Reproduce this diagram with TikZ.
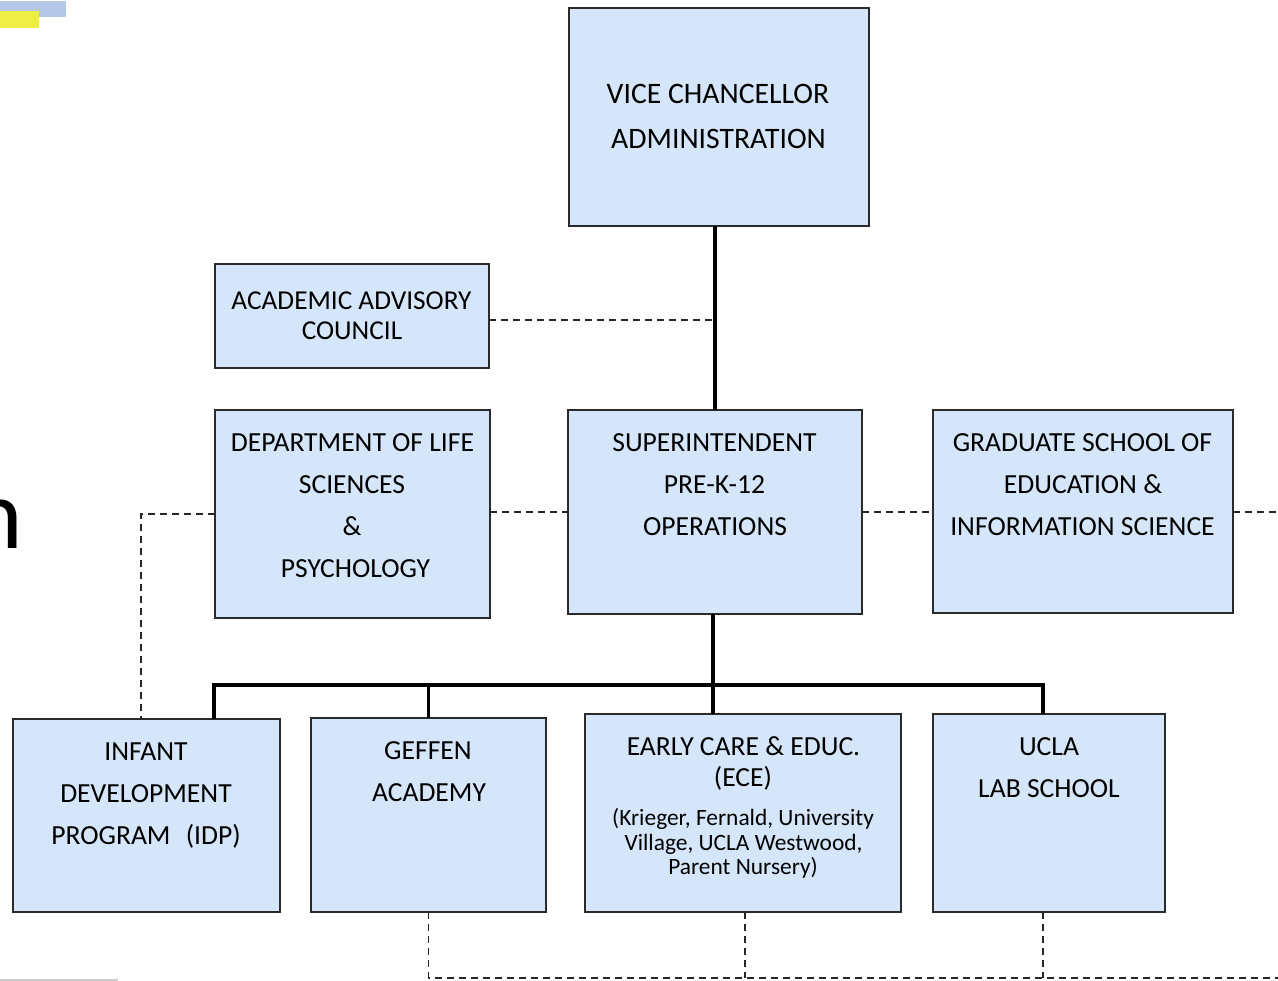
\documentclass[tikz,border=0pt]{standalone}
\usepackage{fontspec}
\setmainfont{Carlito}
\definecolor{boxfill}{HTML}{D6E6FA}
\definecolor{boxline}{HTML}{2A2A2A}
\definecolor{hlblue}{HTML}{B4C7E7}
\definecolor{hlyellow}{HTML}{EEEE44}
\tikzset{
  orgbox/.style={draw=boxline, fill=boxfill, line width=1.6pt, rectangle, inner sep=0pt, outer sep=0pt},
  lbl/.style={anchor=base, inner sep=0pt, font=\fontsize{27.6}{32}\selectfont},
  lblbig/.style={anchor=base, inner sep=0pt, font=\fontsize{29.7}{34}\selectfont},
  lblaac/.style={anchor=base, inner sep=0pt, font=\fontsize{27.3}{32}\selectfont},
  lblsmall/.style={anchor=base, inner sep=0pt, font=\fontsize{23.4}{27}\selectfont},
  solidcon/.style={line width=3.5pt, black},
  dashcon/.style={line width=1.5pt, black!85, dash pattern=on 7pt off 5pt},
}
\begin{document}
\begin{tikzpicture}[x=1pt, y=-1pt]
\useasboundingbox[fill=white] (0,0) rectangle (1278,981);

% top-left highlights
\fill[hlblue] (0,1) rectangle (66,17);
\fill[hlyellow] (0,11) rectangle (39,28);
% grey line bottom-left
\draw[black!20, line width=2pt] (0,980) -- (118,980);
% big partial letter on left edge
\node[anchor=base east, inner sep=0pt, font=\fontsize{100}{110}\selectfont] (bign) at (23,548) {n};

% boxes
\node[orgbox, minimum width=300pt, minimum height=218pt] (vc) at (719,117) {};
\node[orgbox, minimum width=274pt, minimum height=104pt] (aac) at (352,316) {};
\node[orgbox, minimum width=275pt, minimum height=208pt] (dls) at (352.5,514) {};
\node[orgbox, minimum width=294pt, minimum height=204pt] (sup) at (715,512) {};
\node[orgbox, minimum width=300pt, minimum height=203pt] (gse) at (1083,511.5) {};
\node[orgbox, minimum width=267pt, minimum height=193pt] (idp) at (146.5,815.5) {};
\node[orgbox, minimum width=235pt, minimum height=194pt] (gef) at (428.5,815) {};
\node[orgbox, minimum width=316pt, minimum height=198pt] (ece) at (743,813) {};
\node[orgbox, minimum width=232pt, minimum height=198pt] (ucla) at (1049,813) {};

% texts
\node[lblbig] (vc1) at (718,103.2) {VICE CHANCELLOR};
\node[lblbig] (vc2) at (718.5,148.2) {ADMINISTRATION};
\node[lblaac] (aac1) at (351.5,309.4) {ACADEMIC ADVISORY};
\node[lblaac] (aac2) at (352,339.4) {COUNCIL};
\node[lbl] (dls1) at (352.5,451.5) {DEPARTMENT OF LIFE};
\node[lbl] (dls2) at (352,493.5) {SCIENCES};
\node[lbl] (dls3) at (352,535.5) {\&};
\node[lbl] (dls4) at (355.5,577.5) {PSYCHOLOGY};
\node[lbl] (sup1) at (714.5,451.5) {SUPERINTENDENT};
\node[lbl] (sup2) at (714.5,493.5) {PRE-K-12};
\node[lbl] (sup3) at (715,535.5) {OPERATIONS};
\node[lbl] (gse1) at (1082.5,451.5) {GRADUATE SCHOOL OF};
\node[lbl] (gse2) at (1083,493.5) {EDUCATION \&};
\node[lbl] (gse3) at (1082.5,535.5) {INFORMATION SCIENCE};
\node[lbl] (idp1) at (146,760.5) {INFANT};
\node[lbl] (idp2) at (146,802.5) {DEVELOPMENT};
\node[lbl] (idp3) at (146,844.5) {PROGRAM\hspace{0.55em}(IDP)};
\node[lbl] (gef1) at (428,759.5) {GEFFEN};
\node[lbl] (gef2) at (429,801.5) {ACADEMY};
\node[lbl] (ece1) at (743.5,755.5) {EARLY CARE \& EDUC.};
\node[lbl] (ece2) at (743,786.5) {(ECE)};
\node[lblsmall] (ece3) at (743,825.5) {(Krieger, Fernald, University};
\node[lblsmall] (ece4) at (743.5,850.5) {Village, UCLA Westwood,};
\node[lblsmall] (ece5) at (743,874.5) {Parent Nursery)};
\node[lbl] (ucla1) at (1049,755.5) {UCLA};
\node[lbl] (ucla2) at (1049,797.5) {LAB SCHOOL};

% coordinates
\coordinate (aacj) at (715,320);
\coordinate (gser) at (1278,512);
\coordinate (idpj) at (141,514);
\coordinate (bus) at (713,685);
\coordinate (bL) at (214,685);
\coordinate (bR) at (1043,685);
\coordinate (bot) at (1278,978);

% solid connectors
\draw[solidcon] (sup.north) -- (sup.north |- vc.south);
\draw[solidcon] (sup.south -| bus) -- (bus |- ece.north);
\draw[solidcon] (bL |- idp.north) -- (bL) -- (bR) -- (bR |- ucla.north);
\draw[solidcon] (gef.north) -- (gef.north |- bL);

% dashed connectors
\draw[dashcon] (aac.east |- aacj) -- (aacj);
\draw[dashcon] (dls.east |- sup.west) -- (sup.west);
\draw[dashcon] (sup.east) -- (sup.east -| gse.west);
\draw[dashcon] (gse.east |- gser) -- (gser);
\draw[dashcon] (dls.west |- idpj) -- (idpj) -- (idpj |- idp.north);
\draw[dashcon] (gef.south) -- (gef.south |- bot) -- (bot);
\draw[dashcon] (ece.south -| 745,0) -- (745,978);
\draw[dashcon] (bR |- ucla.south) -- (bR |- bot);
\end{tikzpicture}
\end{document}
